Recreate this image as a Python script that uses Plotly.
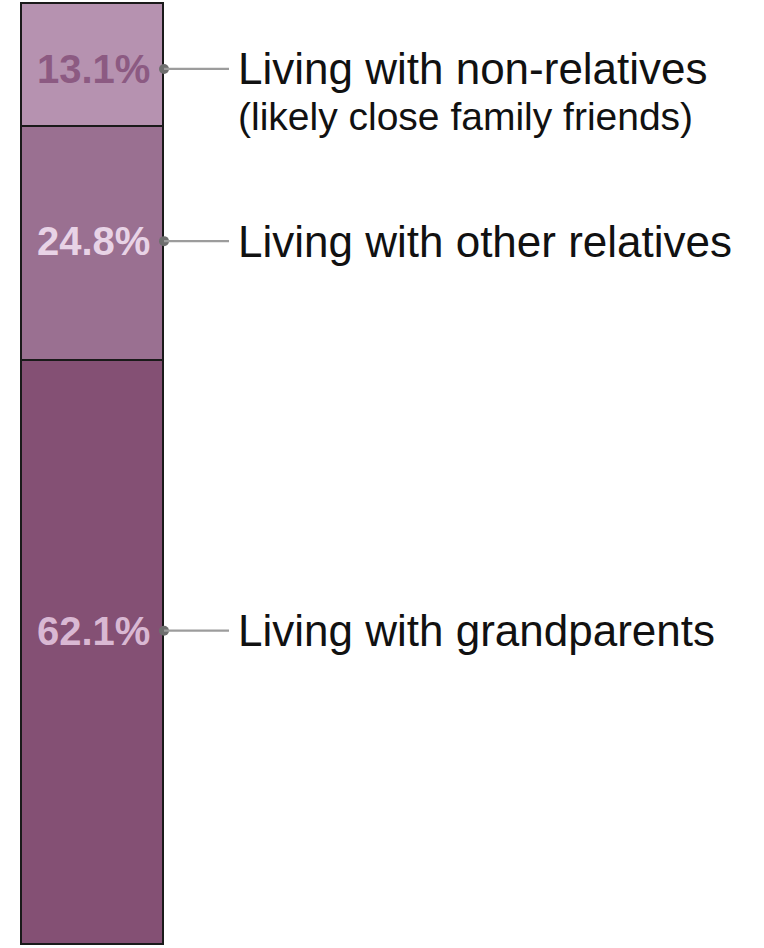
import plotly.graph_objects as go

categories = ["Living with grandparents", "Living with other relatives", "Living with non-relatives"]
values = [62.1, 24.8, 13.1]
value_labels = ["62.1%", "24.8%", "13.1%"]
subtitles = ["", "", "(likely close family friends)"]

# styling (not data)
bar_colors = ["#845074", "#9a7091", "#b692b0"]
pct_colors = ["#d9b8d3", "#e8d3e6", "#8c5a82"]
label_y = [33.4, 74.8, 93.1]   # vertical anchor of each callout (axis units)

W, H = 764, 948
bar_x, bar_w = 93, 142
dot_x, line_end, text_x = 164, 229, 236

fig = go.Figure()
for i, (cat, v) in enumerate(zip(categories, values)):
    fig.add_trace(go.Bar(
        x=[bar_x], y=[v], width=[bar_w], name=cat,
        marker=dict(color=bar_colors[i], line=dict(color="#1a1a1a", width=1.6)),
        hoverinfo="skip", showlegend=False))

annotations = []
shapes = []
for i, cat in enumerate(categories):
    ly = label_y[i]
    annotations.append(dict(x=bar_x, y=ly, xref="x", yref="y", text="<b>%s</b>" % value_labels[i],
                            showarrow=False, xanchor="center", yanchor="middle",
                            font=dict(family="Liberation Sans, Arial", size=40, color=pct_colors[i])))
    annotations.append(dict(x=text_x, y=ly, xref="x", yref="y", text=cat,
                            showarrow=False, xanchor="left", yanchor="middle",
                            font=dict(family="Liberation Sans, Arial", size=44, color="#111111")))
    if subtitles[i]:
        annotations.append(dict(x=text_x, y=ly - 5.1, xref="x", yref="y", text=subtitles[i],
                                showarrow=False, xanchor="left", yanchor="middle",
                                font=dict(family="Liberation Sans, Arial", size=39, color="#111111")))
    shapes.append(dict(type="line", xref="x", yref="y", x0=dot_x, x1=line_end, y0=ly, y1=ly,
                       line=dict(color="#9c9c9c", width=2.2)))

fig.add_trace(go.Scatter(x=[dot_x] * 3, y=label_y, mode="markers",
                         marker=dict(color="#6e6e6e", size=10), hoverinfo="skip", showlegend=False))

rng = 100 * H / 941.0
lo = -rng * 3 / H
fig.update_layout(
    barmode="stack", width=W, height=H,
    margin=dict(l=0, r=0, t=0, b=0),
    paper_bgcolor="white", plot_bgcolor="white",
    xaxis=dict(range=[0, W], visible=False, fixedrange=True),
    yaxis=dict(range=[lo, lo + rng], visible=False, fixedrange=True),
    annotations=annotations, shapes=shapes, bargap=0,
)
fig.write_html("out.html", config={"displayModeBar": False},
               post_script="document.body.style.margin='0';document.body.style.overflow='hidden';")
